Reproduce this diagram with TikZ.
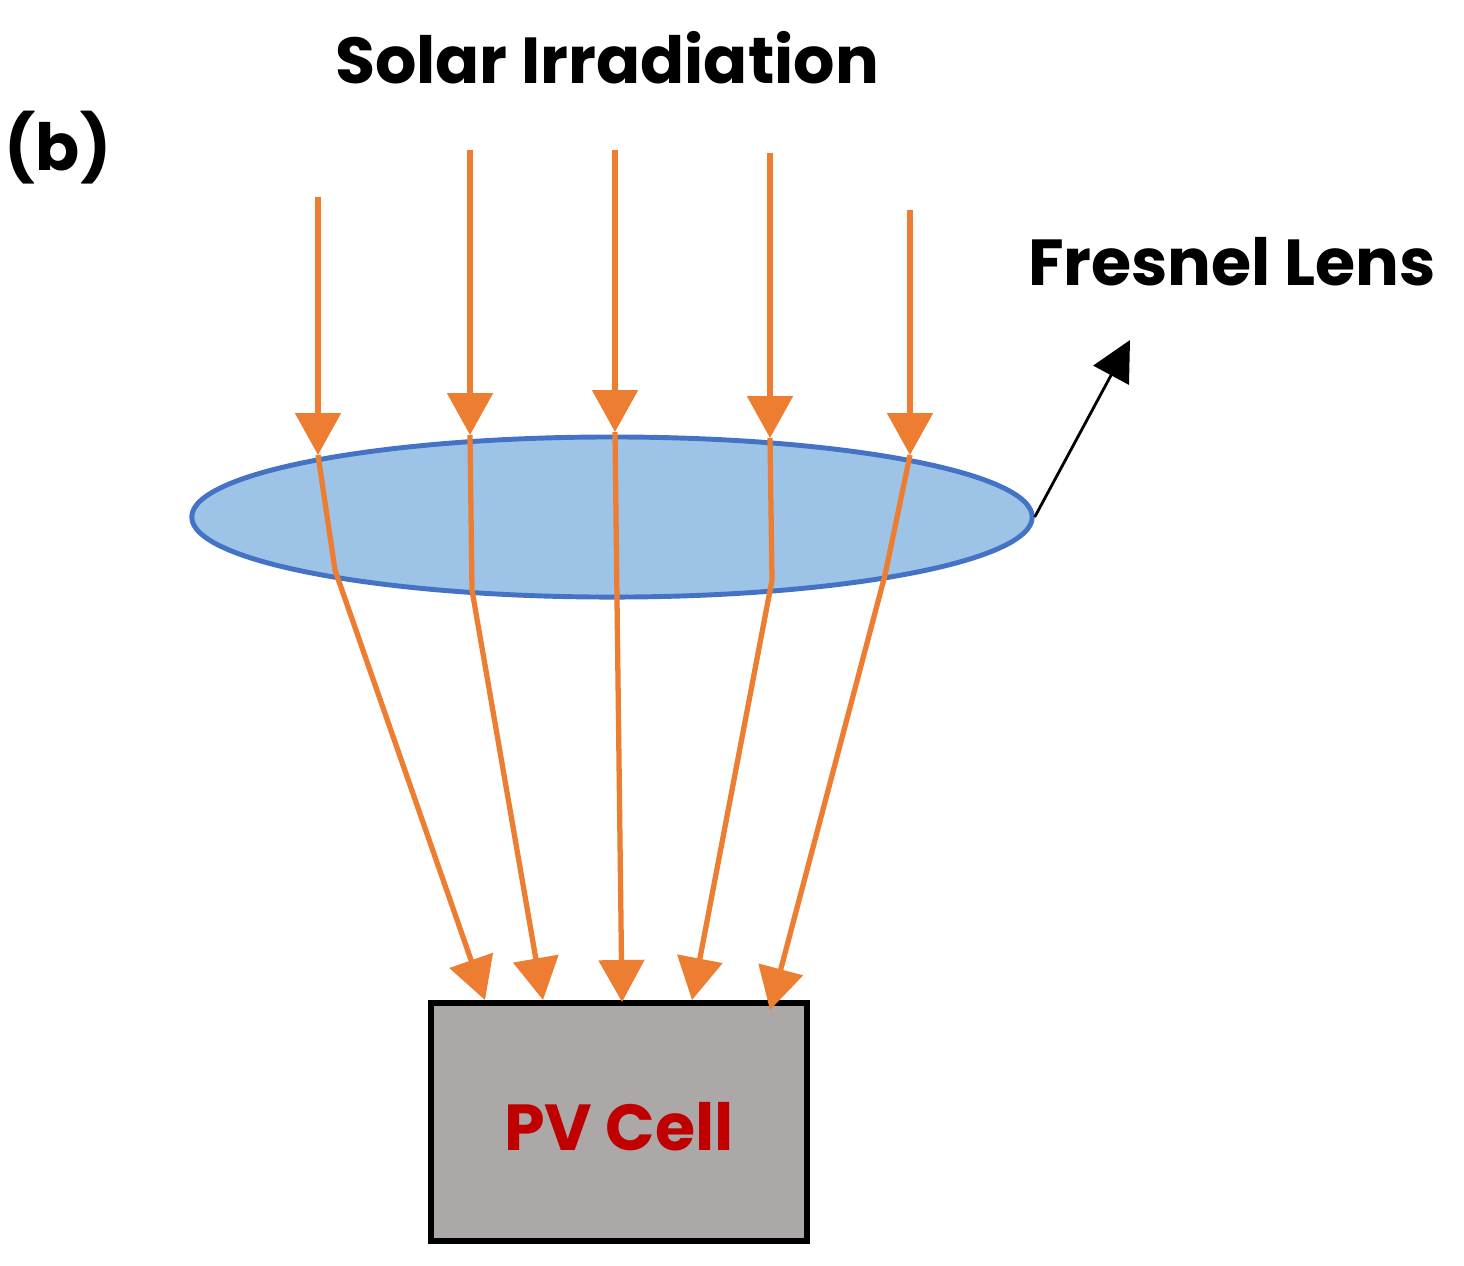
\documentclass[tikz,border=0pt]{standalone}
\usepackage{fontspec}
\setmainfont{Poppins}
\usetikzlibrary{arrows.meta, shapes.geometric}
\definecolor{ray}{RGB}{237,125,49}
\definecolor{lensfill}{RGB}{157,195,230}
\definecolor{lensline}{RGB}{68,114,196}
\definecolor{cellgray}{RGB}{171,168,167}
\definecolor{cellred}{RGB}{192,0,0}
\begin{document}
\begin{tikzpicture}[
					x=0.01cm, y=-0.01cm,
					label/.style={font=\fontsize{18.5}{22}\selectfont\bfseries},
					beam/.style={draw=ray, line width=1.5pt, -{Triangle[width=0.45cm, length=0.42cm]}}
					]
					\useasboundingbox (0,0) rectangle (1464,1265);
					% Lens and cell
					\node [ellipse, draw=lensline, fill=lensfill, line width=1.4pt, minimum width=8.4cm, minimum height=1.6cm, inner sep=0pt] (Lens) at (612,517) {};
					\node [draw, fill=cellgray, line width=1.6pt, minimum width=3.76cm, minimum height=2.38cm] (Cell) at (619,1122) {};
					\node [label, text=cellred] (CellText) at (619,1127) {PV Cell};
					
					% Labels
					\node [label] (Sun) at (607,58) {Solar Irradiation};
					\node [label] (Tag) at (58,148) {(b)};
					\node [label] (LensText) at (1232,262) {Fresnel Lens};
					
					% Rays
					\foreach \i/\xa/\ya/\xb/\yb/\xc/\yc/\xd/\yd in {
						1/318/197/318/455/335/570/485/1000,
						2/470/150/470/435/472/590/543/1000,
						3/615/150/615/432/617/600/622/1002,
						4/770/153/770/438/772/580/692/1000,
						5/910/210/910/455/885/575/770/1010}{
						\coordinate (top\i) at (\xa,\ya);
						\coordinate (in\i) at (\xb,\yb);
						\coordinate (out\i) at (\xc,\yc);
						\coordinate (hit\i) at (\xd,\yd);
						\draw [beam] (top\i) -- (in\i);
						\draw [beam] (in\i) -- (out\i) -- (hit\i);
					}
					
					% Pointer
					\coordinate (tip) at (1130,340);
					\draw [line width=0.8pt, -{Triangle[width=0.4cm, length=0.4cm]}] (Lens.east) -- (tip);
				\end{tikzpicture}
\end{document}
